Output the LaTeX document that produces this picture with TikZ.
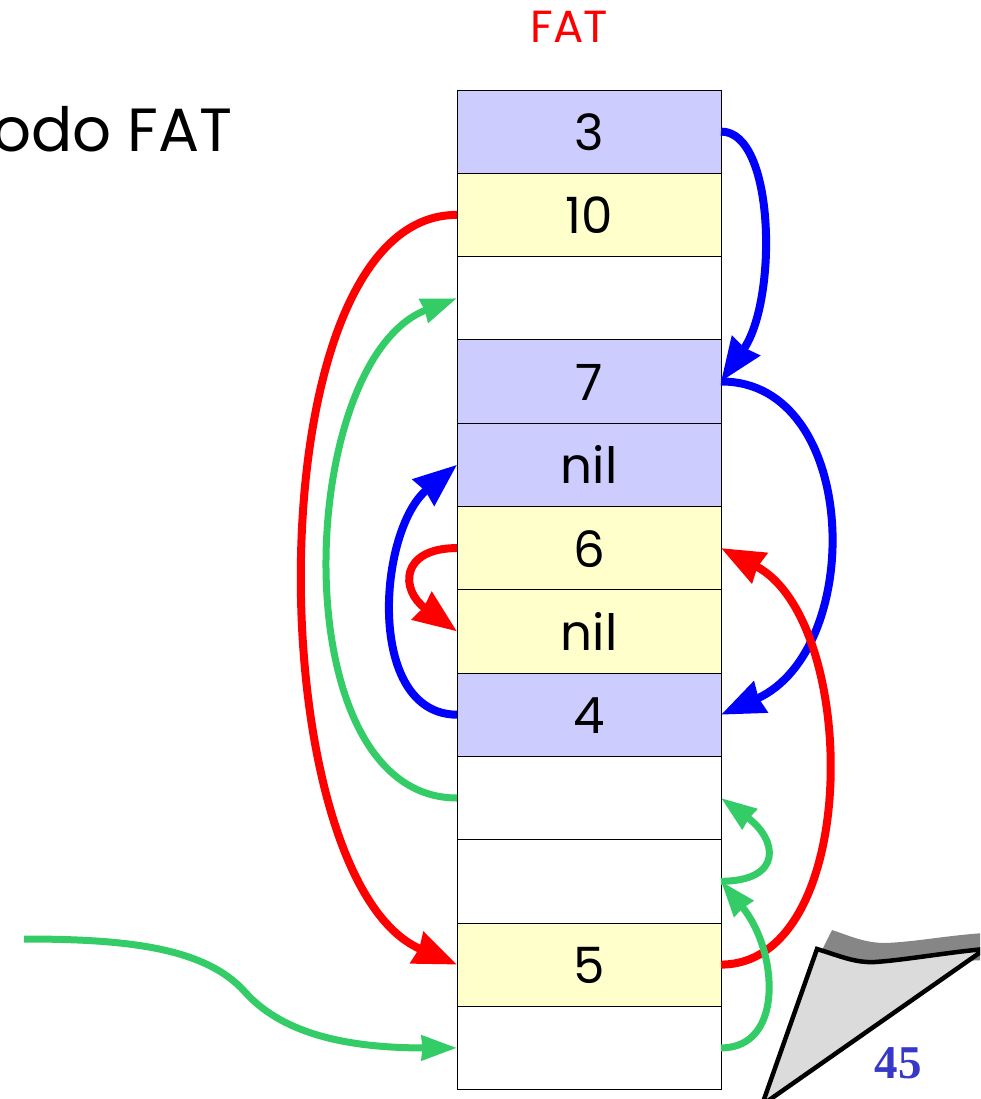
\documentclass[tikz,border=0pt]{standalone}
\usepackage{fontspec}
\setmainfont{Poppins}
\newfontfamily\numfont{Liberation Serif}
\usetikzlibrary{arrows.meta}
\definecolor{cblue}{HTML}{CCCCFF}
\definecolor{cyel}{HTML}{FFFFCC}
\definecolor{lgreen}{HTML}{33CC66}
\definecolor{lblue}{HTML}{0000FF}
\definecolor{lred}{HTML}{FF0000}
\definecolor{numblue}{HTML}{3838C8}
\tikzset{
  x=1pt,y=-1pt,
  cell/.style={draw=black,line width=0.8pt,minimum width=264pt,minimum height=83.3pt,inner sep=0pt,outer sep=0pt,font=\fontsize{50}{52}\selectfont,text height=38pt,text depth=0pt},
  bluecell/.style={cell,fill=cblue},
  yelcell/.style={cell,fill=cyel},
  whitecell/.style={cell,fill=white},
  bluelink/.style={draw=lblue,line width=8pt,-{Stealth[length=43pt,width=33pt,inset=2pt]}},
  redlink/.style={draw=lred,line width=8pt,-{Stealth[length=43pt,width=33pt,inset=2pt]}},
  greenlink/.style={draw=lgreen,line width=7pt,-{Stealth[length=35pt,width=24pt,inset=0.5pt]}},
}
\begin{document}
\begin{tikzpicture}
\useasboundingbox[clip] (0,0) rectangle (980,1099);
\node[text=lred,font=\fontsize{45}{47}\selectfont,inner sep=0pt] (fat) at (569,27) {FAT};
\node[anchor=base west,font=\fontsize{61}{63}\selectfont,inner sep=0pt] (title) at (-8,152) {odo FAT};
\node[bluecell]  (c1)  at (589,131.6) {3};
\node[yelcell]   (c2)  at (589,214.9) {10};
\node[whitecell] (c3)  at (589,298.2) {};
\node[bluecell]  (c4)  at (589,381.5) {7};
\node[bluecell]  (c5)  at (589,464.8) {nil};
\node[yelcell]   (c6)  at (589,548.1) {6};
\node[yelcell]   (c7)  at (589,631.4) {nil};
\node[bluecell]  (c8)  at (589,714.7) {4};
\node[whitecell] (c9)  at (589,798.0) {};
\node[whitecell] (c10) at (589,881.3) {};
\node[yelcell]   (c11) at (589,964.6) {5};
\node[whitecell] (c12) at (589,1047.9) {};
% page fold
\fill[fill=gray!95] (832,930) .. controls (850,936) and (865,943) .. (885,943) .. controls (915,942) and (950,935) .. (985,933) -- (985,960) -- (870,965) -- (822,950) -- cycle;
\draw[fill=black!14,line width=4.5pt,line join=miter] (817,949) .. controls (840,956) and (855,963) .. (875,962) .. controls (905,960) and (950,952) .. (985,949) -- (762,1105) -- cycle;
\node[text=numblue,font=\numfont\bfseries\fontsize{47}{49}\selectfont,inner sep=0pt] (page) at (898,1063) {45};
% links
\draw[bluelink] (c1.east) .. controls (775,131) and (778,300) .. (c4.east);
\draw[bluelink] (c4.east) .. controls (860,381) and (866,650) .. (c8.east);
\draw[bluelink] (c8.west) .. controls (365,714) and (378,530) .. (c5.west);
\draw[redlink] (c2.west) .. controls (252,214) and (258,880) .. (c11.west);
\draw[redlink] (c6.west) .. controls (400,548) and (400,590) .. (c7.west);
\draw[redlink] (c11.east) .. controls (862,964) and (860,620) .. (c6.east);
\draw[greenlink] (c9.west) .. controls (280,798) and (295,360) .. (c3.west);
\draw[greenlink] (c10.east) .. controls (783,881) and (778,840) .. (c9.east);
\draw[greenlink] (c12.east) .. controls (785,1048) and (778,950) .. (c10.east);
\coordinate (start) at (24,939);
\draw[greenlink] (start) .. controls (125,939) and (205,947) .. (245,992) .. controls (280,1031) and (340,1048) .. (c12.west);
\end{tikzpicture}
\end{document}
